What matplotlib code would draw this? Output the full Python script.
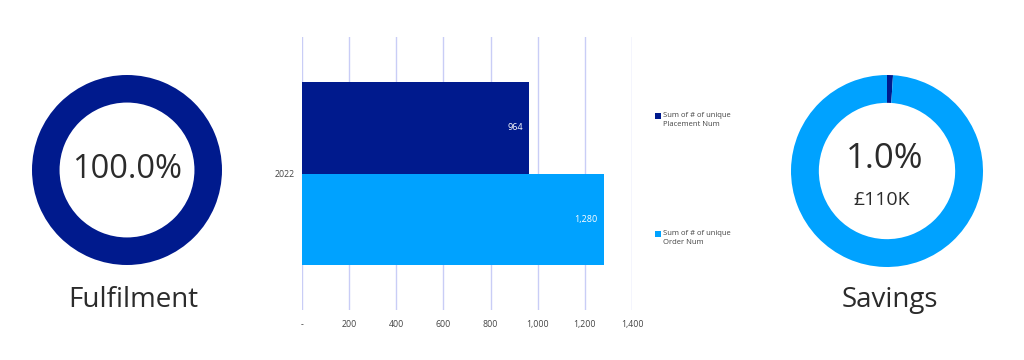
import matplotlib
matplotlib.use("Agg")
import matplotlib.pyplot as plt
from matplotlib.patches import Rectangle

# ---- data ----
fulfilment_pct = 100.0
savings_pct = 1.0
savings_value_label = "£110K"
categories = ["2022"]
series_names = ["Sum of # of unique\nPlacement Num", "Sum of # of unique\nOrder Num"]
placement_num = [964]
order_num = [1280]
x_ticks = [0, 200, 400, 600, 800, 1000, 1200, 1400]

DARK = "#001A8D"
LIGHT = "#00A2FF"
TXT = "#2B2B2B"
W, H = 1024, 360

fig = plt.figure(figsize=(W / 100, H / 100), dpi=100)
fig.patch.set_facecolor("white")

def px_axes(x0, y0, x1, y1):
    # pixel box (top-left origin) -> figure axes
    return fig.add_axes([x0 / W, 1 - y1 / H, (x1 - x0) / W, (y1 - y0) / H])

def donut(cx, cy, r, values, colors):
    ax = px_axes(cx - r, cy - r, cx + r, cy + r)
    ax.pie(values, colors=colors, startangle=90, counterclock=False,
           wedgeprops=dict(width=0.29, linewidth=0))
    ax.set_xlim(-1, 1)
    ax.set_ylim(-1, 1)
    ax.set_aspect("equal")
    ax.axis("off")
    return ax

# ---- left donut: Fulfilment ----
axL = donut(127, 170, 95, [fulfilment_pct], [DARK])
axL.text(0, 0, f"{fulfilment_pct:.1f}%", ha="center", va="center",
         fontsize=23.5, color=TXT, family="Open Sans")
fig.text(133 / W, 1 - 300 / H, "Fulfilment", ha="center", va="center",
         fontsize=20, color=TXT, family="Open Sans")

# ---- right donut: Savings ----
axR = donut(887, 171, 96, [savings_pct, 100 - savings_pct], [DARK, LIGHT])
axR.text(-0.02, 0.12, f"{savings_pct:.1f}%", ha="center", va="center",
         fontsize=25, color=TXT, family="Open Sans")
axR.text(-0.06, -0.30, savings_value_label, ha="center", va="center",
         fontsize=14, color=TXT, family="Open Sans")
fig.text(890 / W, 1 - 300 / H, "Savings", ha="center", va="center",
         fontsize=20, color=TXT, family="Open Sans")

# ---- bar chart ----
axB = px_axes(302, 37, 632, 310)
bh = 0.335
y0 = list(range(len(categories)))
b1 = axB.barh([y + bh / 2 for y in y0], placement_num, height=bh, color=DARK)
b2 = axB.barh([y - bh / 2 for y in y0], order_num, height=bh, color=LIGHT)
axB.set_xlim(0, 1400)
axB.set_ylim(-0.5, 0.5)
axB.set_xticks(x_ticks)
axB.set_xticklabels(["-" if t == 0 else f"{t:,}" for t in x_ticks],
                    fontsize=6.3, color="#444444", family="Open Sans")
axB.set_yticks(y0)
axB.set_yticklabels(categories, fontsize=6.3, color="#444444", family="Open Sans")
axB.tick_params(length=0, axis="x", pad=7)
axB.tick_params(length=0, axis="y", pad=5)
for s in axB.spines.values():
    s.set_visible(False)
axB.xaxis.grid(True, color="#C9CDF6", linewidth=1)
axB.set_axisbelow(True)
for bars, vals in ((b1, placement_num), (b2, order_num)):
    for rect, v in zip(bars, vals):
        axB.text(rect.get_width() - 6 * 1400 / 330, rect.get_y() + rect.get_height() / 2,
                 f"{v:,}", ha="right", va="center", fontsize=6.5,
                 color="white", family="Open Sans")

# ---- legend (manual) ----
for (ty, name, col) in ((116, series_names[0], DARK), (234, series_names[1], LIGHT)):
    fig.add_artist(Rectangle((655 / W, 1 - (ty + 3) / H), 6 / W, 6 / H,
                             transform=fig.transFigure, color=col, lw=0))
    fig.text(663 / W, 1 - (ty - 4) / H, name, ha="left", va="top",
             fontsize=5.5, color="#444444", family="Open Sans", linespacing=1.5)

fig.savefig("out.png", dpi=100, facecolor="white")
